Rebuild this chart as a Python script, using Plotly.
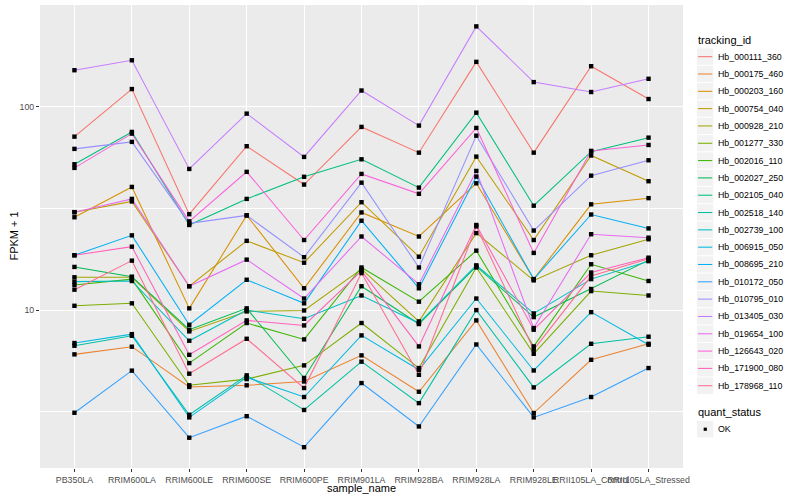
import plotly.graph_objects as go

samples = ["PB350LA", "RRIM600LA", "RRIM600LE", "RRIM600SE", "RRIM600PE", "RRIM901LA",
           "RRIM928BA", "RRIM928LA", "RRIM928LE", "RRII105LA_Control", "RRII105LA_Stressed"]

tracking_ids = ["Hb_000111_360", "Hb_000175_460", "Hb_000203_160", "Hb_000754_040", "Hb_000928_210",
                "Hb_001277_330", "Hb_002016_110", "Hb_002027_250", "Hb_002105_040", "Hb_002518_140",
                "Hb_002739_100", "Hb_006915_050", "Hb_008695_210", "Hb_010172_050", "Hb_010795_010",
                "Hb_013405_030", "Hb_019654_100", "Hb_126643_020", "Hb_171900_080", "Hb_178968_110"]

colors = ["#F8766D", "#EA8331", "#D89000", "#C09B00", "#A3A500", "#7CAE00", "#39B600", "#00BB4E",
          "#00BF7D", "#00C1A3", "#00BFC4", "#00BAE0", "#00B0F6", "#35A2FF", "#9590FF", "#C77CFF",
          "#E76BF3", "#FA62DB", "#FF62BC", "#FF6C91"]

# FPKM + 1 per tracking_id, in sample order
hb_000111_360 = [71.2, 122, 29.6, 63.9, 41.4, 79.5, 59.4, 166, 59.4, 158, 109]
hb_000175_460 = [6.06, 6.61, 4.19, 4.27, 4.46, 5.99, 3.97, 8.90, 3.12, 5.70, 6.83]
hb_000203_160 = [28.6, 40.3, 10.2, 29.2, 12.8, 30.2, 23.0, 42.0, 14.2, 33.1, 35.5]
hb_000754_040 = [30.3, 34.2, 13.1, 21.9, 17.1, 33.9, 18.3, 56.8, 22.1, 57.5, 43.0]
hb_000928_210 = [14.5, 14.5, 7.86, 9.85, 9.96, 15.9, 8.80, 23.9, 14.0, 18.6, 22.3]
hb_001277_330 = [10.5, 10.8, 4.27, 4.58, 5.35, 8.64, 5.19, 16.2, 6.10, 12.4, 11.8]
hb_002016_110 = [13.3, 14.2, 5.49, 8.64, 7.18, 16.2, 11.0, 19.6, 6.63, 16.8, 13.9]
hb_002027_250 = [16.3, 14.6, 8.01, 10.2, 4.64, 13.1, 8.54, 16.4, 9.24, 12.7, 17.6]
hb_002105_040 = [52.1, 75.1, 26.2, 35.2, 45.2, 55.1, 40.0, 93.4, 32.6, 60.1, 70.4]
hb_002518_140 = [6.68, 7.48, 3.06, 4.78, 3.23, 5.58, 3.49, 10.0, 4.17, 6.83, 7.40]
hb_002739_100 = [13.8, 13.9, 7.07, 10.0, 9.07, 11.8, 8.64, 16.6, 9.63, 14.2, 17.4]
hb_006915_050 = [6.89, 7.62, 2.97, 4.67, 3.74, 7.51, 5.09, 11.4, 5.05, 9.77, 6.76]
hb_008695_210 = [18.6, 23.3, 8.47, 14.1, 10.8, 27.5, 12.8, 45.3, 14.2, 29.5, 25.2]
hb_010172_050 = [3.13, 5.04, 2.36, 3.01, 2.12, 4.38, 2.68, 6.78, 2.97, 3.74, 5.19]
hb_010795_010 = [62.0, 67.1, 26.7, 29.2, 18.2, 42.3, 16.2, 72.0, 24.6, 45.8, 54.5]
hb_013405_030 = [151, 169, 49.4, 92.4, 56.6, 120, 80.7, 248, 132, 118, 137]
hb_019654_100 = [30.3, 35.2, 13.1, 17.7, 11.4, 23.0, 13.4, 48.3, 8.16, 23.6, 22.7]
hb_126643_020 = [50.0, 73.7, 27.3, 47.8, 22.1, 46.7, 37.3, 78.6, 19.1, 60.6, 64.8]
hb_171900_080 = [18.6, 20.5, 6.03, 8.90, 8.41, 15.6, 6.63, 26.2, 8.01, 15.3, 18.1]
hb_178968_110 = [12.6, 17.5, 4.87, 7.23, 4.14, 15.2, 4.81, 25.8, 6.39, 14.7, 17.9]

series = [hb_000111_360, hb_000175_460, hb_000203_160, hb_000754_040, hb_000928_210,
          hb_001277_330, hb_002016_110, hb_002027_250, hb_002105_040, hb_002518_140,
          hb_002739_100, hb_006915_050, hb_008695_210, hb_010172_050, hb_010795_010,
          hb_013405_030, hb_019654_100, hb_126643_020, hb_171900_080, hb_178968_110]

quant_status = ["OK"]

# ---- layout constants (pixels) ----
W, H = 800, 500
PL, PR, PT, PB = 39.5, 683.5, 5.0, 468.3
FONT = "Liberation Sans, Arial, Helvetica, sans-serif"


def px2x(px):
    return (px - PL) / (PR - PL)


def px2y(py):
    return (PB - py) / (PB - PT)


fig = go.Figure()
for name, col, vals in zip(tracking_ids, colors, series):
    fig.add_trace(go.Scatter(x=samples, y=vals, mode="lines", name=name,
                             line=dict(color=col, width=1.05), showlegend=False,
                             hoverinfo="x+y+name"))

all_x, all_y = [], []
for vals in series:
    all_x += samples
    all_y += vals
fig.add_trace(go.Scatter(x=all_x, y=all_y, mode="markers", name=quant_status[0],
                         marker=dict(color="black", size=4.4, symbol="square"),
                         showlegend=False))

shapes = []
annotations = []

# axis titles
annotations.append(dict(text="sample_name", x=0.5, y=px2y(488.5), xref="paper", yref="paper",
                        xanchor="center", yanchor="middle", showarrow=False,
                        font=dict(size=11, color="black", family=FONT)))
annotations.append(dict(text="FPKM + 1", x=px2x(12.5), y=0.5, xref="paper", yref="paper",
                        xanchor="center", yanchor="middle", textangle=-90, showarrow=False,
                        font=dict(size=11, color="black", family=FONT)))

# legend: tracking_id
KX0, KX1 = 697.0, 714.3
TX = 716.8
annotations.append(dict(text="tracking_id", x=px2x(697), y=px2y(40.5), xref="paper", yref="paper",
                        xanchor="left", yanchor="middle", showarrow=False,
                        font=dict(size=11, color="black", family=FONT)))
for i, (name, col) in enumerate(zip(tracking_ids, colors)):
    cy = 56.7 + 17.33 * i
    shapes.append(dict(type="rect", xref="paper", yref="paper",
                       x0=px2x(KX0), x1=px2x(KX1), y0=px2y(cy - 8.66), y1=px2y(cy + 8.66),
                       fillcolor="#F2F2F2", line=dict(color="white", width=0.8), layer="above"))
    shapes.append(dict(type="line", xref="paper", yref="paper",
                       x0=px2x(KX0 + 1.5), x1=px2x(KX1 - 1.5), y0=px2y(cy), y1=px2y(cy),
                       line=dict(color=col, width=1.05), layer="above"))
    annotations.append(dict(text=name, x=px2x(TX), y=px2y(cy), xref="paper", yref="paper",
                            xanchor="left", yanchor="middle", showarrow=False,
                            font=dict(size=8.8, color="black", family=FONT)))

# legend: quant_status
annotations.append(dict(text="quant_status", x=px2x(697), y=px2y(412.3), xref="paper", yref="paper",
                        xanchor="left", yanchor="middle", showarrow=False,
                        font=dict(size=11, color="black", family=FONT)))
cy = 429.5
shapes.append(dict(type="rect", xref="paper", yref="paper",
                   x0=px2x(KX0), x1=px2x(KX1), y0=px2y(cy - 8.66), y1=px2y(cy + 8.66),
                   fillcolor="#F2F2F2", line=dict(color="white", width=0.8), layer="above"))
shapes.append(dict(type="rect", xref="paper", yref="paper",
                   x0=px2x(704.2), x1=px2x(707.4), y0=px2y(cy - 1.6), y1=px2y(cy + 1.6),
                   fillcolor="black", line=dict(width=0), layer="above"))
annotations.append(dict(text=quant_status[0], x=px2x(TX), y=px2y(cy), xref="paper", yref="paper",
                        xanchor="left", yanchor="middle", showarrow=False,
                        font=dict(size=8.8, color="black", family=FONT)))

fig.update_layout(
    width=W, height=H,
    margin=dict(l=PL, r=W - PR, t=PT, b=H - PB, pad=0),
    paper_bgcolor="white", plot_bgcolor="#EBEBEB",
    font=dict(family=FONT, color="black"),
    showlegend=False,
    shapes=shapes, annotations=annotations,
)
fig.update_xaxes(type="category", range=[-0.6, 10.6], showgrid=True, gridcolor="white",
                 gridwidth=1.1, ticks="outside", ticklen=3, tickcolor="#333333", tickwidth=1,
                 tickangle=0, tickfont=dict(size=8.8, color="#4D4D4D", family=FONT),
                 zeroline=False, showline=False)
fig.update_yaxes(type="log", range=[0.224, 2.4995], tickvals=[10, 100], ticktext=["10", "100"],
                 showgrid=True, gridcolor="white", gridwidth=1.1, ticks="outside", ticklen=3,
                 tickcolor="#333333", tickwidth=1,
                 tickfont=dict(size=8.8, color="#4D4D4D", family=FONT), zeroline=False,
                 showline=False,
                 minor=dict(tickvals=[3.1623, 31.623, 316.23], showgrid=True, gridcolor="white",
                            gridwidth=0.55, ticks=""))

fig.write_html("out.html", config={"displayModeBar": False},
               post_script="document.body.style.margin='0';document.body.style.overflow='hidden';")
